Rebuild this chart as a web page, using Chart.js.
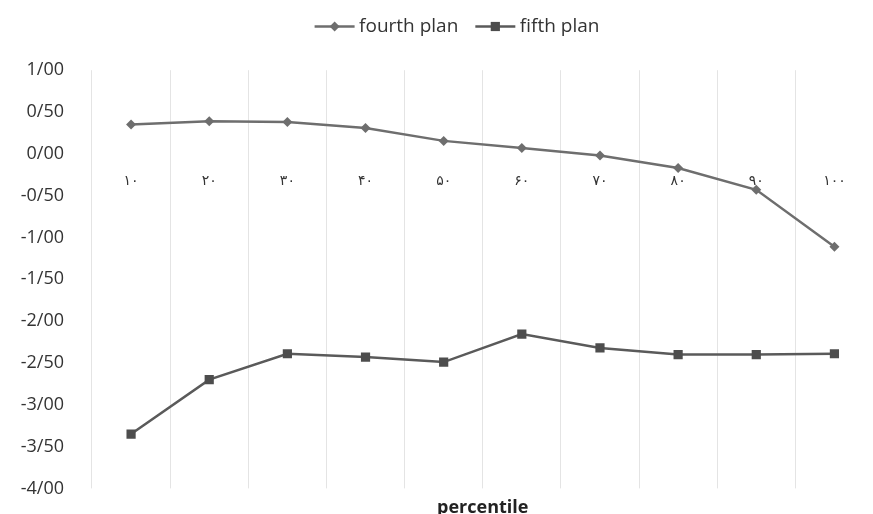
<!DOCTYPE html>
<html>
<head>
<meta charset="utf-8">
<script src="https://cdn.jsdelivr.net/npm/chart.js@4"></script>
<style>
    html, body { margin: 0; padding: 0; background: #fff; overflow: hidden; }
</style>
</head>
<body>
<canvas id="chart" width="880" height="514"></canvas>
<script>
const percentiles = ["۱۰", "۲۰", "۳۰", "۴۰", "۵۰", "۶۰", "۷۰", "۸۰", "۹۰", "۱۰۰"];
const fourthPlan = [0.35, 0.39, 0.38, 0.31, 0.155, 0.07, -0.02, -0.17, -0.43, -1.11];
const fifthPlan = [-3.35, -2.70, -2.39, -2.43, -2.49, -2.155, -2.32, -2.40, -2.40, -2.39];

// legend sits a bit right of the canvas centre, and gets Excel-like keys
const legendKeys = {
    id: "legendKeys",
    beforeDraw(chart) {
        const lg = chart.legend;
        if (!lg || lg._shifted === lg.legendHitBoxes) return;
        lg.left += 18;
        lg.right += 18;
        lg.legendHitBoxes.forEach(b => { b.left += 18; });
        lg._shifted = lg.legendHitBoxes;
    },
    afterDraw(chart) {
        const legend = chart.legend;
        if (!legend || !legend.legendHitBoxes) return;
        const ctx = chart.ctx;
        ctx.save();
        legend.legendHitBoxes.forEach((box, i) => {
            const ds = chart.data.datasets[i];
            const cy = box.top + box.height / 2;
            const x0 = box.left;
            const x1 = box.left + 40;
            ctx.strokeStyle = ds.borderColor;
            ctx.lineWidth = ds.borderWidth;
            ctx.beginPath();
            ctx.moveTo(x0, cy);
            ctx.lineTo(x1, cy);
            ctx.stroke();
            ctx.fillStyle = ds.backgroundColor;
            Chart.helpers.drawPoint(ctx, {
                pointStyle: ds.pointStyle,
                radius: ds.pointRadius,
                borderWidth: 0,
                rotation: 0
            }, (x0 + x1) / 2, cy);
        });
        ctx.restore();
    }
};

new Chart(document.getElementById("chart").getContext("2d"), {
    type: "line",
    data: {
        labels: percentiles,
        datasets: [
            {
                label: "fourth plan",
                data: fourthPlan,
                borderColor: "#6e6e6e",
                backgroundColor: "#6e6e6e",
                borderWidth: 2.5,
                pointStyle: "rectRot",
                pointRadius: 5,
                pointBorderWidth: 0
            },
            {
                label: "fifth plan",
                data: fifthPlan,
                borderColor: "#5a5a5a",
                backgroundColor: "#4d4d4d",
                borderWidth: 2.5,
                pointStyle: "rect",
                pointRadius: 6.5,
                pointBorderWidth: 0
            }
        ]
    },
    options: {
        responsive: false,
        animation: false,
        layout: { padding: { left: 0, right: 2, top: 0, bottom: 0 } },
        scales: {
            x: {
                position: { y: 0 },
                offset: true,
                afterFit: s => { s.height = 0; },
                grid: { color: "#e4e4e4", lineWidth: 1, offset: true, drawTicks: false },
                border: { display: false },
                ticks: {
                    padding: 19,
                    color: "#333",
                    font: { family: "DejaVu Sans", size: 14 }
                }
            },
            y: {
                min: -4,
                max: 1,
                afterFit: s => { s.width = 92; s.paddingBottom = 0; s.paddingTop = 0; },
                grid: { display: false },
                border: { display: false },
                ticks: {
                    stepSize: 0.5,
                    padding: 20,
                    color: "#333",
                    font: { family: "Open Sans", size: 18 },
                    callback: v => v.toFixed(2).replace(".", "/")
                }
            }
        },
        plugins: {
            legend: {
                position: "top",
                labels: {
                    boxWidth: 35,
                    boxHeight: 2,
                    padding: 17,
                    color: "#333",
                    font: { family: "Open Sans", size: 19 },
                    generateLabels: chart => Chart.defaults.plugins.legend.labels.generateLabels(chart).map(l => {
                        l.fillStyle = "rgba(0,0,0,0)";
                        l.strokeStyle = "rgba(0,0,0,0)";
                        l.lineWidth = 0;
                        return l;
                    })
                }
            },
            // empty spacer between legend and plot
            subtitle: {
                display: true,
                position: "top",
                weight: 500,
                text: "",
                padding: { top: 0, bottom: 23 },
                font: { size: 1 }
            },
            title: {
                display: true,
                position: "bottom",
                fullSize: false,
                text: "percentile",
                color: "#222",
                padding: { top: 9, bottom: -5 },
                font: { family: "Open Sans", size: 18, weight: "bold" }
            },
            tooltip: { enabled: false }
        }
    },
    plugins: [legendKeys]
});
</script>
</body>
</html>
